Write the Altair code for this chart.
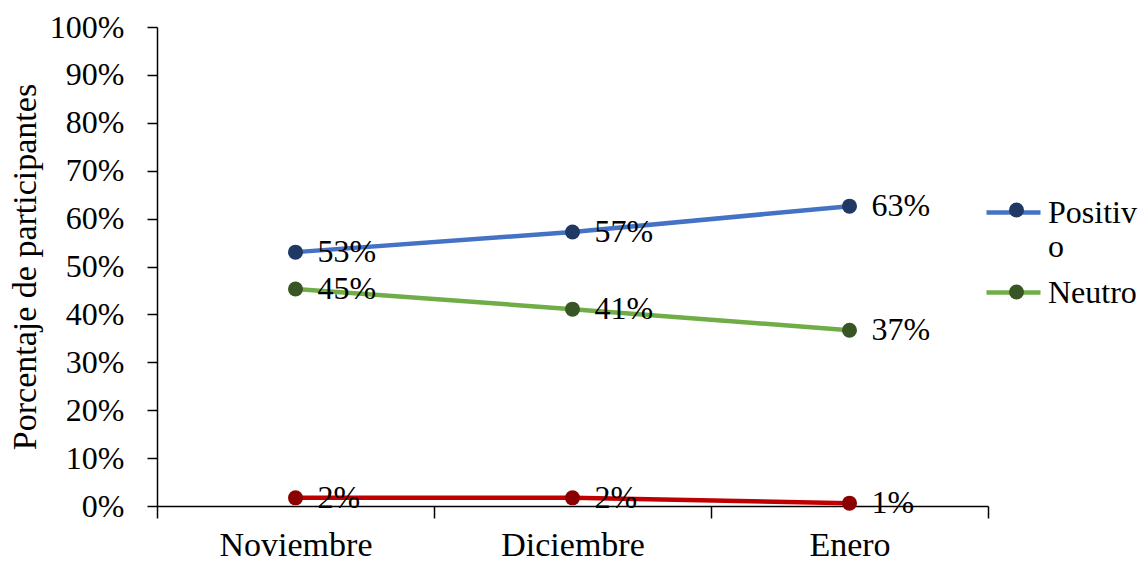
import altair as alt
import pandas as pd

# Survey results by month
meses = ["Noviembre", "Diciembre", "Enero"]
series = ["Positivo", "Neutro", "Negativo"]
positivo = [0.530, 0.572, 0.626]
neutro = [0.453, 0.411, 0.367]
negativo = [0.017, 0.017, 0.006]

line_colors = ["#4472C4", "#70AD47", "#C00000"]
marker_colors = ["#203864", "#375623", "#8B0000"]

FONT = "Liberation Serif"
FS = 32
FS_WIDE = 34

rows = []
for name, vals in zip(series, [positivo, neutro, negativo]):
    for mes, v in zip(meses, vals):
        rows.append({"mes": mes, "serie": name, "valor": v})
df = pd.DataFrame(rows)

# "Positivo" wraps onto two lines in the legend
label_expr = "datum.label == 'Positivo' ? ['Positiv', 'o'] : datum.label"
# marker legend keeps the same row layout, with blank labels
blank_expr = "datum.label == 'Positivo' ? [' ', ' '] : ' '"

x_enc = alt.X(
    "mes:N",
    sort=meses,
    bandPosition=0.5,
    scale=alt.Scale(type="band", paddingInner=0, paddingOuter=0),
    axis=alt.Axis(
        title=None,
        labelFont=FONT,
        labelFontSize=FS_WIDE,
        labelColor="black",
        labelAngle=0,
        labelBaseline="alphabetic",
        labelPadding=37,
        tickBand="extent",
        tickSize=12,
        tickColor="black",
        tickWidth=1.5,
        domainColor="black",
        domainWidth=1.5,
        grid=False,
    ),
)
y_enc = alt.Y(
    "valor:Q",
    scale=alt.Scale(domain=[0, 1], nice=False),
    axis=alt.Axis(
        values=[i / 10 for i in range(11)],
        format=".0%",
        title="Porcentaje de participantes",
        titleFont=FONT,
        titleFontSize=FS_WIDE,
        titleFontWeight="normal",
        titleColor="black",
        titleX=-122,
        titleY=239.5,
        titleAlign="center",
        titleBaseline="alphabetic",
        labelFont=FONT,
        labelFontSize=FS,
        labelColor="black",
        labelPadding=23,
        tickSize=10,
        tickColor="black",
        tickWidth=1.5,
        domainColor="black",
        domainWidth=1.5,
        grid=False,
    ),
)

base = alt.Chart(df).encode(x=x_enc, y=y_enc)

lines = base.mark_line(strokeWidth=4.5).encode(
    stroke=alt.Stroke(
        "serie:N",
        scale=alt.Scale(domain=series, range=line_colors),
        legend=alt.Legend(
            title=None,
            orient="none",
            legendX=827,
            legendY=156,
            values=["Positivo", "Neutro"],
            symbolType="stroke",
            symbolSize=2916,
            symbolStrokeWidth=4.5,
            labelExpr=label_expr,
            labelFont=FONT,
            labelFontSize=FS,
            labelColor="black",
            labelOffset=5,
            labelLimit=300,
            padding=0,
            rowPadding=0,
        ),
    )
)

points = base.mark_circle(size=225, opacity=1, strokeWidth=0).encode(
    fill=alt.Fill(
        "serie:N",
        scale=alt.Scale(domain=["Negativo", "Positivo", "Neutro"],
                        range=[marker_colors[2], marker_colors[0], marker_colors[1]]),
        legend=alt.Legend(
            title=None,
            orient="none",
            legendX=843.5,
            legendY=167,
            values=["Positivo", "Neutro"],
            symbolType="circle",
            symbolSize=225,
            symbolStrokeWidth=0,
            labelExpr=blank_expr,
            labelFont=FONT,
            labelFontSize=FS,
            labelOpacity=0,
            labelLimit=300,
            padding=0,
            rowPadding=16,
        ),
    )
)

labels = base.mark_text(
    align="left", baseline="middle", dx=22, font=FONT, fontSize=FS, color="black"
).encode(text=alt.Text("valor:Q", format=".0%"), detail="serie:N")

chart = (
    alt.layer(lines, points, labels)
    .properties(
        width=831,
        height=479,
        autosize=alt.AutoSizeParams(type="none"),
        padding={"left": 157, "top": 27, "right": 155, "bottom": 55},
        background="white",
    )
    .configure_view(stroke=None)
    .resolve_scale(fill="independent", stroke="independent")
)

chart.save("out.html", embed_options={"renderer": "svg", "actions": False})
